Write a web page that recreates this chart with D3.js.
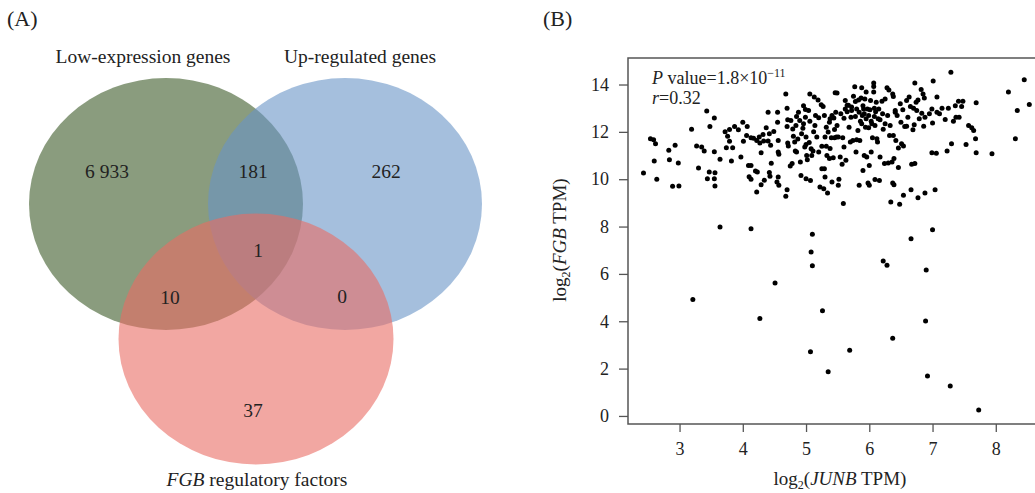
<!DOCTYPE html>
<html lang="en">
<head>
<meta charset="UTF-8">
<title>Venn + scatter</title>
<script src="https://cdn.jsdelivr.net/npm/d3@7"></script>
<style>
  body { margin: 0; background: #fff; }
  svg text { font-family: "Liberation Serif", "DejaVu Serif", serif; fill: #222; }
</style>
</head>
<body>
<svg id="chart" width="1035" height="493"></svg>
<script>
// ---- panel A data ----
var setNames = ["Low-expression genes", "Up-regulated genes", "FGB regulatory factors"];
var setColors = ["rgb(60,90,40)", "rgb(105,148,198)", "rgb(233,108,100)"];
// region counts: only-low, low&up, only-up, all three, low&fgb, up&fgb, only-fgb
var regionLabels = ["6 933", "181", "262", "1", "10", "0", "37"];

// ---- panel B data ----
var junbTPM = [
 2.43,2.54,2.59,2.62,2.60,2.64,2.83,2.84,2.89,2.93,2.98,2.99,3.19,3.21,3.27,3.35,3.30,3.39,3.43,3.48,
 3.44,3.47,3.55,3.55,3.56,3.55,3.56,3.64,3.64,3.72,3.74,3.76,3.79,3.79,3.82,3.84,3.87,3.93,3.97,4.00,
 4.01,4.07,4.06,4.09,4.13,4.13,4.10,4.13,4.13,4.17,4.20,4.22,4.23,4.22,4.27,4.26,4.27,4.29,4.29,4.32,
 4.33,4.34,4.37,4.40,4.40,4.42,4.42,4.43,4.44,4.45,4.49,4.51,4.55,4.55,4.54,4.56,4.56,4.57,4.56,4.57,
 4.68,4.68,4.70,4.70,4.71,4.70,4.71,4.72,4.75,4.76,4.78,4.79,4.80,4.82,4.83,4.84,4.85,4.85,4.88,4.90,
 4.91,4.92,4.93,4.96,4.96,4.98,4.99,4.99,5.00,5.00,5.00,5.01,5.02,5.04,5.06,5.06,5.07,5.07,5.08,5.08,
 5.09,5.10,5.10,5.11,5.13,5.14,5.15,5.17,5.19,5.20,5.22,5.24,5.25,5.25,5.26,5.27,5.28,5.29,5.29,5.30,
 5.30,5.32,5.33,5.34,5.35,5.35,5.37,5.37,5.38,5.40,5.41,5.41,5.43,5.44,5.46,5.45,5.47,5.48,5.49,5.49,
 5.51,5.52,5.51,5.54,5.55,5.57,5.58,5.59,5.60,5.60,5.62,5.62,5.63,5.65,5.67,5.69,5.70,5.71,5.72,5.74,
 5.75,5.77,5.78,5.79,5.80,5.80,5.82,5.83,5.84,5.84,5.85,5.87,5.88,5.88,5.89,5.90,5.91,5.92,5.92,5.93,
 5.95,5.95,5.96,5.97,5.98,5.99,5.99,6.00,6.00,6.01,6.02,6.03,6.04,6.05,6.07,6.07,6.07,6.08,6.08,6.09,
 6.09,6.11,6.12,6.13,6.15,6.16,6.17,6.17,6.20,6.21,6.22,6.22,6.24,6.25,6.25,6.28,6.28,6.29,6.30,6.31,
 6.32,6.33,6.34,6.36,6.37,6.37,6.37,6.38,6.38,6.39,6.39,6.41,6.41,6.42,6.44,6.46,6.46,6.48,6.49,6.50,
 6.51,6.53,6.54,6.54,6.56,6.59,6.59,6.61,6.63,6.65,6.66,6.66,6.67,6.69,6.70,6.71,6.72,6.72,6.74,6.75,
 6.77,6.77,6.79,6.82,6.83,6.85,6.86,6.87,6.88,6.88,6.89,6.90,6.92,6.95,6.99,7.00,6.99,7.00,7.01,7.04,
 7.06,7.07,7.07,7.11,7.15,7.20,7.23,7.25,7.28,7.29,7.30,7.33,7.36,7.37,7.41,7.42,7.46,7.48,7.53,7.57,
 7.62,7.65,7.68,7.69,7.69,7.73,7.94,8.20,8.31,8.34,8.45,8.53,
 5.65,5.72,5.86,5.94,6.03,6.10,5.78,5.68,6.14,5.90,4.95,5.12,5.32,5.20,5.45,4.87,5.05,5.38
];
var fgbTPM = [
 10.26,11.71,11.67,11.50,10.77,10.00,11.22,10.82,9.70,11.43,10.68,9.71,12.11,4.92,11.40,11.36,10.47,11.19,12.88,12.23,
 10.02,10.30,12.59,11.16,10.27,10.02,9.71,7.98,10.84,12.00,11.33,11.81,12.10,11.60,10.77,11.33,12.23,12.09,10.94,12.41,
 11.60,12.23,11.85,10.58,11.75,7.91,10.10,10.00,10.58,11.73,10.35,11.64,10.30,9.46,4.12,11.78,11.53,11.12,9.77,11.89,
 11.61,9.96,12.17,12.83,11.61,11.92,10.28,10.12,11.43,10.67,12.02,5.62,12.83,12.41,9.88,10.09,11.64,9.74,11.15,11.05,
 13.60,9.28,9.56,13.00,12.51,12.23,11.53,11.40,10.56,12.48,10.66,12.12,11.81,11.57,11.19,12.27,12.65,11.15,12.83,12.48,
 10.73,10.16,11.92,13.10,12.34,11.36,12.94,12.62,11.78,11.47,10.02,11.00,10.82,12.90,13.60,12.45,9.95,2.71,6.93,11.29,
 11.00,7.67,6.34,11.19,13.47,12.27,12.69,11.78,13.35,11.15,9.67,13.14,10.44,11.39,4.44,13.07,9.60,12.69,10.44,11.78,
 10.09,11.39,11.00,9.42,1.87,11.99,12.41,10.87,12.55,11.75,12.69,9.88,10.91,12.59,13.65,11.75,12.83,11.78,13.64,12.27,
 9.74,10.00,11.78,10.94,12.76,10.63,11.75,8.97,11.36,12.58,12.97,13.33,10.80,13.12,13.12,2.78,11.57,12.62,12.90,11.64,
 13.50,13.91,13.28,11.15,11.67,12.97,12.06,13.35,9.74,12.83,11.64,13.43,13.86,12.34,12.69,10.37,12.97,12.76,11.00,13.39,
 13.68,12.55,10.94,12.97,9.84,12.69,12.17,10.58,9.74,12.93,13.33,11.15,12.34,11.75,14.06,13.92,13.68,13.00,12.65,9.99,
 12.27,13.25,11.71,11.57,12.97,9.95,12.51,10.94,13.29,12.76,6.55,12.11,10.66,12.34,13.39,6.37,13.86,12.69,10.68,13.77,
 11.85,12.27,9.04,10.73,3.28,9.84,13.60,13.49,11.85,10.87,9.77,12.90,12.83,11.64,12.69,10.49,11.32,8.94,13.19,12.41,
 11.50,12.93,9.32,11.40,12.23,13.33,12.24,12.62,13.47,13.07,7.48,9.56,10.63,12.09,13.00,12.30,14.06,10.66,13.25,12.90,
 13.35,9.22,12.55,13.79,12.79,13.60,12.24,13.43,9.42,12.62,4.01,6.16,1.69,12.76,12.97,7.87,11.12,12.37,14.15,9.56,
 11.10,13.47,12.83,12.76,13.00,12.52,11.19,13.00,1.27,14.52,11.50,12.45,13.10,12.62,13.29,12.62,13.07,13.29,11.47,12.27,
 12.17,12.06,11.71,13.23,11.12,0.25,11.08,13.68,11.71,12.90,14.20,13.16,
 12.85,13.05,12.45,12.20,12.45,12.85,12.65,12.20,12.55,13.10,12.15,12.00,12.20,12.60,12.10,11.70,11.55,11.30
];
var xTicks = [3, 4, 5, 6, 7, 8];
var yTicks = [0, 2, 4, 6, 8, 10, 12, 14];
var pValueText = "1.8×10";
var pValueExp = "−11";
var rText = "=0.32";

var svg = d3.select("#chart");

// ================= Panel A: Venn =================
svg.append("text").attr("x", 7).attr("y", 26).style("font-size", "22px").text("(A)");

var venn = [
  {cx: 166, cy: 204, rx: 137, ry: 126},
  {cx: 345, cy: 204, rx: 137, ry: 126},
  {cx: 256, cy: 339, rx: 137.5, ry: 125.5}
];
svg.append("g").selectAll("ellipse")
  .data(venn)
  .enter().append("ellipse")
  .attr("cx", d => d.cx).attr("cy", d => d.cy)
  .attr("rx", d => d.rx).attr("ry", d => d.ry)
  .attr("fill", (d, i) => setColors[i])
  .attr("fill-opacity", 0.6);

var labelPos = [[107, 178], [253, 178], [386, 178], [258, 257], [170, 304], [342, 303], [253, 417]];
svg.append("g").selectAll("text")
  .data(regionLabels)
  .enter().append("text")
  .attr("x", (d, i) => labelPos[i][0]).attr("y", (d, i) => labelPos[i][1])
  .attr("text-anchor", "middle")
  .style("font-size", "19.5px")
  .text(d => d);

svg.append("text").attr("x", 143).attr("y", 63).attr("text-anchor", "middle")
  .style("font-size", "19.5px").text(setNames[0]);
svg.append("text").attr("x", 360).attr("y", 63).attr("text-anchor", "middle")
  .style("font-size", "19.5px").text(setNames[1]);
var t3 = svg.append("text").attr("x", 257).attr("y", 486).attr("text-anchor", "middle")
  .style("font-size", "19.5px");
t3.append("tspan").style("font-style", "italic").text("FGB");
t3.append("tspan").text(" regulatory factors");

// ================= Panel B: scatter =================
svg.append("text").attr("x", 543).attr("y", 26).style("font-size", "22px").text("(B)");

var plotL = 628, plotT = 58, plotR = 1035, plotB = 424;
var x = d3.scaleLinear().domain([2.185, 8.62]).range([plotL, plotR]);
var y = d3.scaleLinear().domain([-0.34, 15.12]).range([plotB, plotT]);

var axisColor = "#555";
svg.append("path")
  .attr("d", `M${plotR + 5},${plotT}H${plotL}V${plotB}H${plotR + 5}`)
  .attr("fill", "none").attr("stroke", axisColor).attr("stroke-width", 1.5);

var gx = svg.append("g").attr("transform", `translate(0,${plotB})`)
  .call(d3.axisBottom(x).tickValues(xTicks).tickSize(8).tickPadding(10).tickFormat(d3.format("d")));
var gy = svg.append("g").attr("transform", `translate(${plotL},0)`)
  .call(d3.axisLeft(y).tickValues(yTicks).tickSize(9).tickPadding(10).tickFormat(d3.format("d")));
[gx, gy].forEach(g => {
  g.select(".domain").remove();
  g.selectAll(".tick line").attr("stroke", axisColor).attr("stroke-width", 1.3);
  g.selectAll(".tick text").style("font-size", "18px")
    .style("font-family", '"Liberation Serif", serif').attr("fill", "#222");
});

var pts = junbTPM.map((v, i) => ({x: v, y: fgbTPM[i]}));
svg.append("g").selectAll("circle")
  .data(pts)
  .enter().append("circle")
  .attr("cx", d => x(d.x)).attr("cy", d => y(d.y))
  .attr("r", 2.5).attr("fill", "#000");

// annotation
var ann = svg.append("text").attr("x", 652).attr("y", 84).style("font-size", "18px");
ann.append("tspan").style("font-style", "italic").text("P");
ann.append("tspan").text(" value=" + pValueText);
ann.append("tspan").attr("dy", -7).style("font-size", "12px").text(pValueExp);
var ann2 = svg.append("text").attr("x", 652).attr("y", 104).style("font-size", "18px");
ann2.append("tspan").style("font-style", "italic").text("r");
ann2.append("tspan").text(rText);

// axis titles
var xt = svg.append("text").attr("x", 840).attr("y", 485).attr("text-anchor", "middle")
  .style("font-size", "19px");
xt.append("tspan").text("log");
xt.append("tspan").attr("dy", 4).style("font-size", "12px").text("2");
xt.append("tspan").attr("dy", -4).text("(");
xt.append("tspan").style("font-style", "italic").text("JUNB");
xt.append("tspan").text(" TPM)");

var yt = svg.append("text").attr("transform", "translate(566,240) rotate(-90)")
  .attr("text-anchor", "middle").style("font-size", "19px");
yt.append("tspan").text("log");
yt.append("tspan").attr("dy", 4).style("font-size", "12px").text("2");
yt.append("tspan").attr("dy", -4).text("(");
yt.append("tspan").style("font-style", "italic").text("FGB");
yt.append("tspan").text(" TPM)");
</script>
</body>
</html>
